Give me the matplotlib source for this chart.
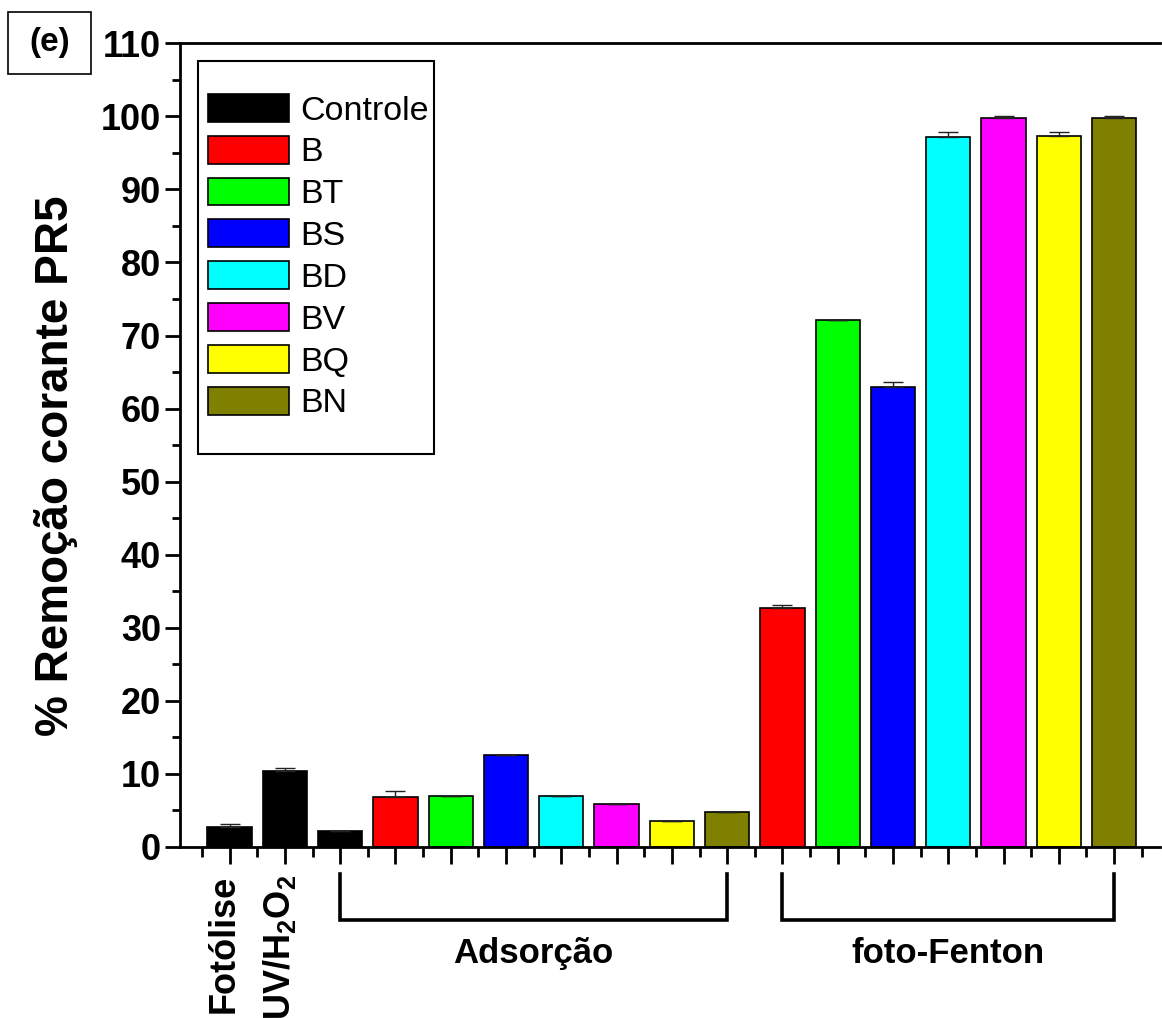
import matplotlib
matplotlib.use("Agg")
import matplotlib.pyplot as plt
import matplotlib.transforms as mtransforms
from matplotlib.patches import Rectangle
import numpy as np

plt.rcParams['font.family'] = ['Liberation Sans', 'DejaVu Sans']
plt.rcParams['mathtext.fontset'] = 'custom'
plt.rcParams['mathtext.rm'] = 'Liberation Sans:bold'
plt.rcParams['mathtext.it'] = 'Liberation Sans:bold'
plt.rcParams['mathtext.bf'] = 'Liberation Sans:bold'

# --- data -----------------------------------------------------------------
control_labels = ['Fotólise', 'UV/H$_2$O$_2$']
control_values = [2.8, 10.4]
control_errors = [0.3, 0.35]

materials = ['Controle', 'B', 'BT', 'BS', 'BD', 'BV', 'BQ', 'BN']
material_colors = ['#000000', '#ff0000', '#00ff00', '#0000ff',
                   '#00ffff', '#ff00ff', '#ffff00', '#808000']

adsorption_values = [2.2, 6.9, 7.0, 12.6, 7.0, 5.9, 3.6, 4.8]
adsorption_errors = [0.0, 0.75, 0.0, 0.0, 0.0, 0.0, 0.0, 0.0]

fenton_materials = ['B', 'BT', 'BS', 'BD', 'BV', 'BQ', 'BN']
fenton_values = [32.7, 72.1, 63.0, 97.2, 99.8, 97.3, 99.8]
fenton_errors = [0.4, 0.0, 0.6, 0.6, 0.3, 0.5, 0.2]

group_labels = ['Adsorção', 'foto-Fenton']
y_ticks = list(range(0, 111, 10))

# --- figure ---------------------------------------------------------------
fig = plt.figure(figsize=(11.62, 10.18), dpi=100)
ax = fig.add_axes([0.1549, 0.168, 0.8434, 0.7895])

n_ctrl = len(control_values)
n_ads = len(adsorption_values)
n_fen = len(fenton_values)
x_ctrl = np.arange(1, n_ctrl + 1)
x_ads = np.arange(n_ctrl + 1, n_ctrl + n_ads + 1)
x_fen = np.arange(n_ctrl + n_ads + 1, n_ctrl + n_ads + n_fen + 1)

width = 0.8
ekw = dict(ecolor='#222222', elinewidth=1.0, capsize=7, capthick=1.0)

def up_err(errs):
    errs = np.asarray(errs)
    return [np.zeros_like(errs), errs]

ax.bar(x_ctrl, control_values, width, color='black', edgecolor='black',
       linewidth=1.2, yerr=up_err(control_errors), error_kw=ekw, zorder=2)

ads_bars = ax.bar(x_ads, adsorption_values, width, color=material_colors,
                  edgecolor='black', linewidth=1.2,
                  yerr=up_err(adsorption_errors), error_kw=ekw, zorder=2)

fen_colors = [material_colors[materials.index(m)] for m in fenton_materials]
ax.bar(x_fen, fenton_values, width, color=fen_colors, edgecolor='black',
       linewidth=1.2, yerr=up_err(fenton_errors), error_kw=ekw, zorder=2)

# --- axes styling ---------------------------------------------------------
n_total = n_ctrl + n_ads + n_fen
ax.set_xlim(0.103, n_total + 0.83)
ax.set_ylim(0, 110)

ax.spines['right'].set_visible(False)
for s in ['left', 'bottom', 'top']:
    ax.spines[s].set_linewidth(2.0)

ax.set_xticks(np.arange(1, n_total + 1))
ax.set_xticklabels([])
ax.set_xticks(np.arange(0.5, n_total + 1, 1.0), minor=True)
ax.tick_params(axis='x', which='major', direction='out', length=12, width=2.0)
ax.tick_params(axis='x', which='minor', direction='out', length=7, width=2.0)

ax.set_yticks(y_ticks)
ax.set_yticks(np.arange(5, 110, 10), minor=True)
ax.tick_params(axis='y', which='major', direction='out', length=10.5, width=2.0,
               labelsize=26, pad=3)
ax.tick_params(axis='y', which='minor', direction='out', length=5.5, width=2.0)
for lab in ax.get_yticklabels():
    lab.set_fontweight('bold')

fig.text(56 / 1162, 1 - 466 / 1018, '% Remoção corante PR5', rotation=90,
         ha='center', va='center', fontsize=33, fontweight='bold')

# rotated category labels under the first two bars
trans = mtransforms.blended_transform_factory(ax.transData, ax.transAxes)
for xi, lab in zip(x_ctrl, control_labels):
    ax.text(xi - 0.1, -0.035, lab, rotation=90, ha='center', va='top',
            fontsize=26, fontweight='bold', transform=trans, clip_on=False)

# group brackets
def bracket(x0, x1, label):
    y_top, y_bot = -0.034, -0.091
    ax.plot([x0, x0, x1, x1], [y_top, y_bot, y_bot, y_top], color='black',
            lw=2.6, transform=trans, clip_on=False, solid_joinstyle='miter')
    ax.text((x0 + x1) / 2, -0.132, label, ha='center', va='center',
            fontsize=25, fontweight='bold', transform=trans, clip_on=False)

bracket(x_ads[0], x_ads[-1], group_labels[0])
bracket(x_fen[0], x_fen[-1], group_labels[1])

# legend with its own frame
leg = ax.legend(list(ads_bars), materials, loc='upper left',
                bbox_to_anchor=(0.0286, 0.937), frameon=False, fontsize=24.5,
                handlelength=2.38, handleheight=0.88, handletextpad=0.32,
                labelspacing=0.27, borderpad=0, borderaxespad=0)
for h in leg.legend_handles:
    h.set_linewidth(1.2)
ax.add_patch(Rectangle((0.0184, 0.489), 0.241, 0.489, transform=ax.transAxes,
                       fill=False, edgecolor='black', lw=1.5, zorder=5))

# panel tag
fig.patches.append(Rectangle((8 / 1162, 1 - 74 / 1018), 83 / 1162, 62 / 1018,
                             transform=fig.transFigure, fill=False,
                             edgecolor='black', lw=1.2))
fig.text(49.5 / 1162, 1 - 43 / 1018, '(e)', ha='center', va='center',
         fontsize=24, fontweight='bold')

fig.savefig('out.png', dpi=100)
